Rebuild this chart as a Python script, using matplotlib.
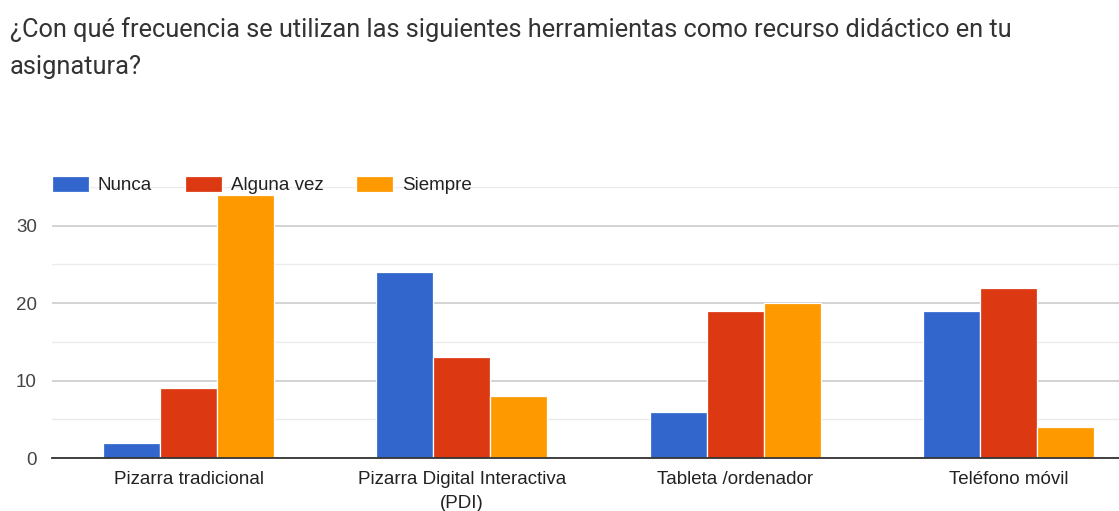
import matplotlib
matplotlib.use("Agg")
import matplotlib.pyplot as plt
import numpy as np

plt.rcParams['font.family'] = ['Liberation Sans', 'DejaVu Sans']

title_lines = ["¿Con qué frecuencia se utilizan las siguientes herramientas como recurso didáctico en tu",
               "asignatura?"]
categories = ["Pizarra tradicional", "Pizarra Digital Interactiva\n(PDI)", "Tableta /ordenador", "Teléfono móvil"]
series_names = ["Nunca", "Alguna vez", "Siempre"]
nunca = [2, 24, 6, 19]
alguna_vez = [9, 13, 19, 22]
siempre = [34, 8, 20, 4]
series = [nunca, alguna_vez, siempre]
colors = ["#3366cc", "#dc3912", "#ff9900"]
y_ticks = [0, 10, 20, 30]

W, H = 1119, 511
fig = plt.figure(figsize=(W / 100, H / 100), dpi=100)
left = 52 / W
right = 1145 / W
bottom = (H - 458) / H
top = (H - 187) / H
ax = fig.add_axes([left, bottom, right - left, top - bottom])

x = np.arange(len(categories))
bw = 0.2086
for k, (vals, name, c) in enumerate(zip(series, series_names, colors)):
    ax.bar(x + (k - 1) * bw, vals, width=bw, color=c, edgecolor="white",
           linewidth=0.9, label=name, zorder=3)

ax.set_xlim(-0.5, len(categories) - 0.5)
ax.set_ylim(0, 35)
ax.set_yticks(y_ticks)
ax.set_yticks([5, 15, 25, 35], minor=True)
ax.grid(axis='y', which='major', color='#cccccc', linewidth=1.2, zorder=0)
ax.grid(axis='y', which='minor', color='#ebebeb', linewidth=1.0, zorder=0)
ax.set_xticks(x)
ax.set_xticklabels(categories, fontsize=13.5, color='#222222', linespacing=1.55)
ax.tick_params(axis='x', length=0, pad=9)
ax.tick_params(axis='y', which='both', length=0, pad=11, labelsize=13.5, labelcolor='#444444')
for s in ['top', 'right', 'left']:
    ax.spines[s].set_visible(False)
ax.spines['bottom'].set_color('#333333')
ax.spines['bottom'].set_linewidth(1.3)
ax.spines['bottom'].set_zorder(4)

for line, yb in zip(title_lines, [37, 74]):
    fig.text(10 / W, 1 - yb / H, line, fontsize=18.3, color='#333333', ha='left',
             va='baseline', family=['Roboto', 'DejaVu Sans'])

leg = ax.legend(loc='center left', bbox_to_anchor=(52 / W, 1 - 185 / H),
                bbox_transform=fig.transFigure, ncol=3, frameon=False,
                fontsize=13.5, handlelength=1.97, handleheight=0.96, handletextpad=0.48,
                columnspacing=1.75, borderaxespad=0, borderpad=0)
for t in leg.get_texts():
    t.set_color('#222222')

fig.savefig("out.png", dpi=100)
